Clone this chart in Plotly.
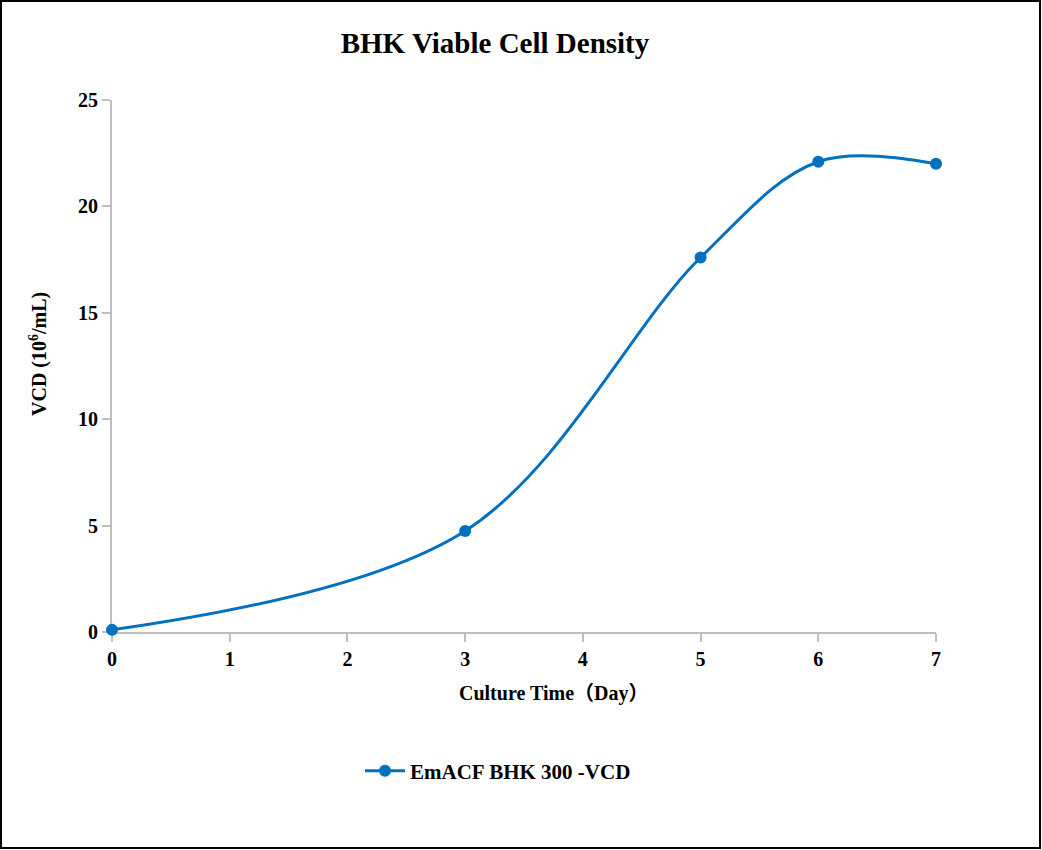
import plotly.graph_objects as go

days = [0, 3, 5, 6, 7]
vcd = [0.1, 4.75, 17.6, 22.1, 22.0]
series_name = "EmACF BHK 300 -VCD"
x_ticks = [0, 1, 2, 3, 4, 5, 6, 7]
y_ticks = [0, 5, 10, 15, 20, 25]

W, H = 1042, 850
L, R, T, B = 112, 106, 100, 218
pw, ph = W - L - R, H - T - B

font_family = "Liberation Serif, Times New Roman, serif"
cjk = "Noto Sans CJK SC"
blue = "#0070C0"

def px_x(p):
    return (p - L) / pw

def px_y(p):
    return (T + ph - p) / ph

fig = go.Figure()
fig.add_trace(go.Scatter(
    x=days, y=vcd, mode="lines+markers", name=f"<b>{series_name}</b>",
    line=dict(color=blue, width=3, shape="spline", smoothing=1.0),
    marker=dict(color=blue, size=12),
    cliponaxis=False,
))

x_title = (f"<b>Culture Time<span style='font-family:{cjk}'>（</span>Day"
           f"<span style='font-family:{cjk}'>）</span></b>")

fig.update_layout(
    width=W, height=H,
    margin=dict(l=L, r=R, t=T, b=B),
    paper_bgcolor="white", plot_bgcolor="white",
    font=dict(family=font_family, color="black"),
    title=dict(text="<b>BHK Viable Cell Density</b>", x=495 / W, xanchor="center",
               y=1 - 43 / H, yanchor="middle", font=dict(size=29, family=font_family, color="black")),
    showlegend=True,
    legend=dict(orientation="h", x=px_x(360), xanchor="left",
                y=px_y(771), yanchor="middle",
                font=dict(size=21, family=font_family, color="black"),
                itemwidth=40),
    xaxis=dict(range=[0, 7], tickmode="array", tickvals=x_ticks,
               ticktext=[f"<b>{v}</b>" for v in x_ticks],
               showgrid=False, zeroline=False, layer="below traces",
               showline=True, linecolor="#BFBFBF", linewidth=2,
               ticks="outside", ticklen=8, tickwidth=2, tickcolor="#BFBFBF",
               tickfont=dict(size=20, family=font_family, color="black")),
    yaxis=dict(range=[0, 25], tickmode="array", tickvals=y_ticks,
               ticktext=[f"<b>{v}</b>" for v in y_ticks],
               showgrid=False, zeroline=False, layer="below traces",
               showline=True, linecolor="#BFBFBF", linewidth=2,
               ticks="outside", ticklen=8, tickwidth=2, tickcolor="#BFBFBF",
               tickfont=dict(size=20, family=font_family, color="black")),
)

# axis titles as annotations for precise placement
fig.add_annotation(text=x_title, xref="paper", yref="paper", x=px_x(553), y=px_y(691),
                   xanchor="center", yanchor="middle", showarrow=False,
                   font=dict(size=20, family=font_family, color="black"))
fig.add_annotation(text="<b>VCD (10<sup>6</sup>/mL)</b>", xref="paper", yref="paper",
                   x=px_x(38), y=px_y(354), textangle=-90,
                   xanchor="center", yanchor="middle", showarrow=False,
                   font=dict(size=20, family=font_family, color="black"))

# outer border
fig.add_shape(type="rect", xref="paper", yref="paper",
              x0=px_x(1), x1=px_x(W - 2),
              y0=px_y(H - 2), y1=px_y(1),
              line=dict(color="black", width=2), fillcolor="rgba(0,0,0,0)", layer="below")

fig.write_html("out.html", config={"displayModeBar": False},
               post_script="document.body.style.margin='0';document.body.style.overflow='hidden';")
